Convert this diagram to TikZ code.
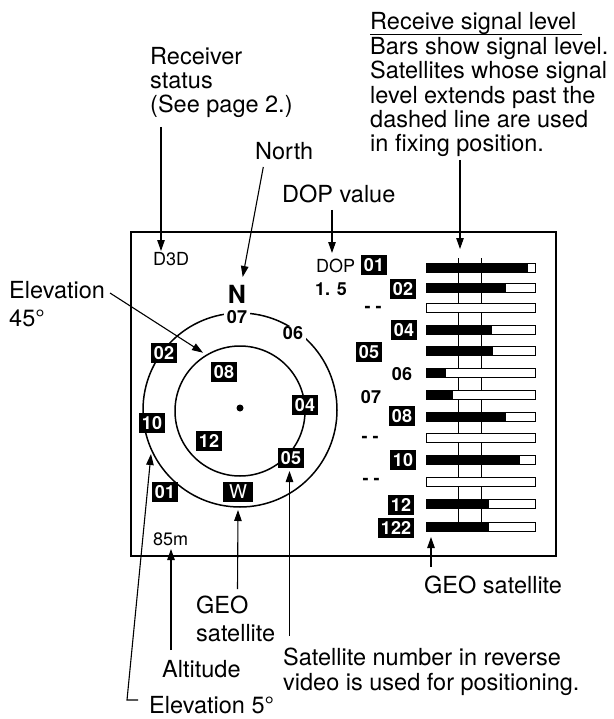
\documentclass[tikz,border=0pt]{standalone}
\usepackage{fontspec}
\setmainfont{TeX Gyre Heros}
\usetikzlibrary{arrows.meta}
\newcommand\txtlines[2]{\vtop{\baselineskip=#1\lineskiplimit=-100pt\lineskip=0pt\relax #2}}
\begin{document}
\begin{tikzpicture}[x=1pt,y=-1pt,
  big/.style={font=\fontsize{23.5}{24}\selectfont, inner sep=0pt},
  small/.style={font=\fontsize{18}{20}\selectfont, inner sep=0pt},
  smallb/.style={font=\fontsize{18}{20}\selectfont\bfseries, inner sep=0pt},
  rev/.style={fill=black, text=white, font=\fontsize{18}{20}\selectfont\bfseries,
    inner xsep=2.5pt, inner ysep=3.5pt, text height=12.8pt, text depth=0pt},
  num/.style={fill=white, font=\fontsize{18}{20}\selectfont\bfseries,
    inner xsep=3pt, inner ysep=1pt, text height=12.8pt, text depth=0pt},
  arr/.style={line width=1.1pt, -{Triangle[length=11pt,width=7.5pt]}},
  frame/.style={line width=1.5pt},
  ring/.style={line width=1.5pt},
  bar/.style={line width=1pt},
  guide/.style={line width=1.2pt}
]
\useasboundingbox (0,0) rectangle (613,719);

% display frame
\draw[frame] (131,232) rectangle (556,556);

% sky plot
\draw[ring] (240,410) circle[radius=97];
\draw[ring] (240,411) circle[radius=65];
\fill (240,408) circle[radius=3.5];

\node[font=\fontsize{25}{26}\selectfont\bfseries, inner sep=0pt, anchor=base] (n) at (237,303) {N};
\node[num] (s07) at (237,317) {07};
\node[num] (s06) at (293,333) {06};
\node[rev] (s02) at (164,353) {02};
\node[rev] (s08) at (224,372) {08};
\node[rev] (s04) at (305,405) {04};
\node[rev] (s10) at (152,423) {10};
\node[rev] (s12) at (209,441) {12};
\node[rev] (s05) at (291,458) {05};
\node[rev] (s01) at (165,492) {01};
\node[rev, font=\fontsize{19}{20}\selectfont, inner xsep=6.5pt] (w) at (238,492) {W};

% small display texts
\node[small, anchor=base west] (d3d) at (153,265) {D3D};
\node[small, anchor=base west] (dop) at (316,272) {DOP};
\node[smallb, anchor=base west] (dopval) at (315,295) {1. 5};
\node[small, anchor=base west] (alt) at (153,545) {85m};

% signal level bars
\draw[guide] (458.3,258) -- (458.3,522.5);
\draw[guide] (481.5,258) -- (481.5,522.5);
\foreach \y/\e in {267.5/527.5, 288/506, 308.3/426, 329.5/491.7, 351/492.7,
                   373.3/445.7, 395.3/453.3, 416.7/506, 438.3/426, 460/520,
                   481.7/426, 504.3/489.3, 526.7/489.3}{
  \fill[white] (426,\y-4.5) rectangle (535,\y+4.5);
  \fill[black] (426,\y-4.5) rectangle (\e,\y+4.5);
  \draw[bar] (426,\y-4.5) rectangle (535,\y+4.5);
}

% bar labels
\node[rev] (b01) at (374,265) {01};
\node[rev] (b02) at (403,289) {02};
\node[smallb] (b03) at (373,309) {- -};
\node[rev] (b04) at (404,330) {04};
\node[rev] (b05) at (369,352) {05};
\node[smallb] (b06) at (402,374) {06};
\node[smallb] (b07) at (371,397) {07};
\node[rev] (b08) at (402,416) {08};
\node[smallb] (b09) at (370,439) {- -};
\node[rev] (b10) at (403,460) {10};
\node[smallb] (b11) at (371,481) {- -};
\node[rev] (b12) at (401,505) {12};
\node[rev] (b122) at (396,528) {122};

% callout texts
\node[big, anchor=base west] (recv) at (150,65)
  {\txtlines{24pt}{\hbox{Receiver}\hbox{status}\hbox{(See page 2.)}}};
\node[big, anchor=base west] (north) at (255,160) {North};
\node[big, anchor=base west] (dopv) at (282,203) {DOP value};
\node[big, anchor=base west] (rsl) at (370,30)
  {\txtlines{24.4pt}{\hbox{Receive signal level}\hbox{Bars show signal level.}\hbox{Satellites whose signal}\hbox{level extends past the}\hbox{dashed line are used}\hbox{in fixing position.}}};
\draw[line width=1pt] (370,35) -- (582,35);
\node[big, anchor=base west] (el45) at (9,298)
  {\txtlines{28pt}{\hbox{Elevation}\hbox{45°}}};
\node[big, anchor=base west] (geor) at (424,593) {GEO satellite};
\node[big, anchor=base west] (geoc) at (196,613)
  {\txtlines{28pt}{\hbox{GEO}\hbox{satellite}}};
\node[big, anchor=base west] (altl) at (162,677) {Altitude};
\node[big, anchor=base west] (revl) at (283,665)
  {\txtlines{25pt}{\hbox{Satellite number in reverse}\hbox{video is used for positioning.}}};
\node[big, anchor=base west] (el5) at (149,713) {Elevation 5°};

% connector end points
\coordinate (recvA) at (161,127);   \coordinate (recvB) at (161,251);
\coordinate (northA) at (263.3,167); \coordinate (northB) at (242.7,277);
\coordinate (dopA) at (332,210);    \coordinate (dopB) at (332,253);
\coordinate (rslA) at (460,160);    \coordinate (rslB) at (460,249);
\coordinate (e45A) at (110,293);    \coordinate (e45B) at (203,352.7);
\coordinate (e5A) at (138,700);     \coordinate (e5K) at (127,700);
\coordinate (e5B) at (151,454);
\coordinate (wA) at (237.5,589);    \coordinate (wB) at (238,510);
\coordinate (s05A) at (289.5,636);  \coordinate (s05B) at (289.5,471);
\coordinate (altA) at (171,650);    \coordinate (altB) at (171,549);
\coordinate (geoA) at (431,567);    \coordinate (geoB) at (431,537);

\draw[arr] (recvA) -- (recvB);
\draw[arr] (northA) -- (northB);
\draw[arr] (dopA) -- (dopB);
\draw[arr] (rslA) -- (rslB);
\draw[arr] (e45A) -- (e45B);
\draw[arr] (e5A) -- (e5K) -- (e5B);
\draw[arr] (wA) -- (wB);
\draw[arr] (s05A) -- (s05B);
\draw[arr] (altA) -- (altB);
\draw[arr] (geoA) -- (geoB);
\end{tikzpicture}
\end{document}
